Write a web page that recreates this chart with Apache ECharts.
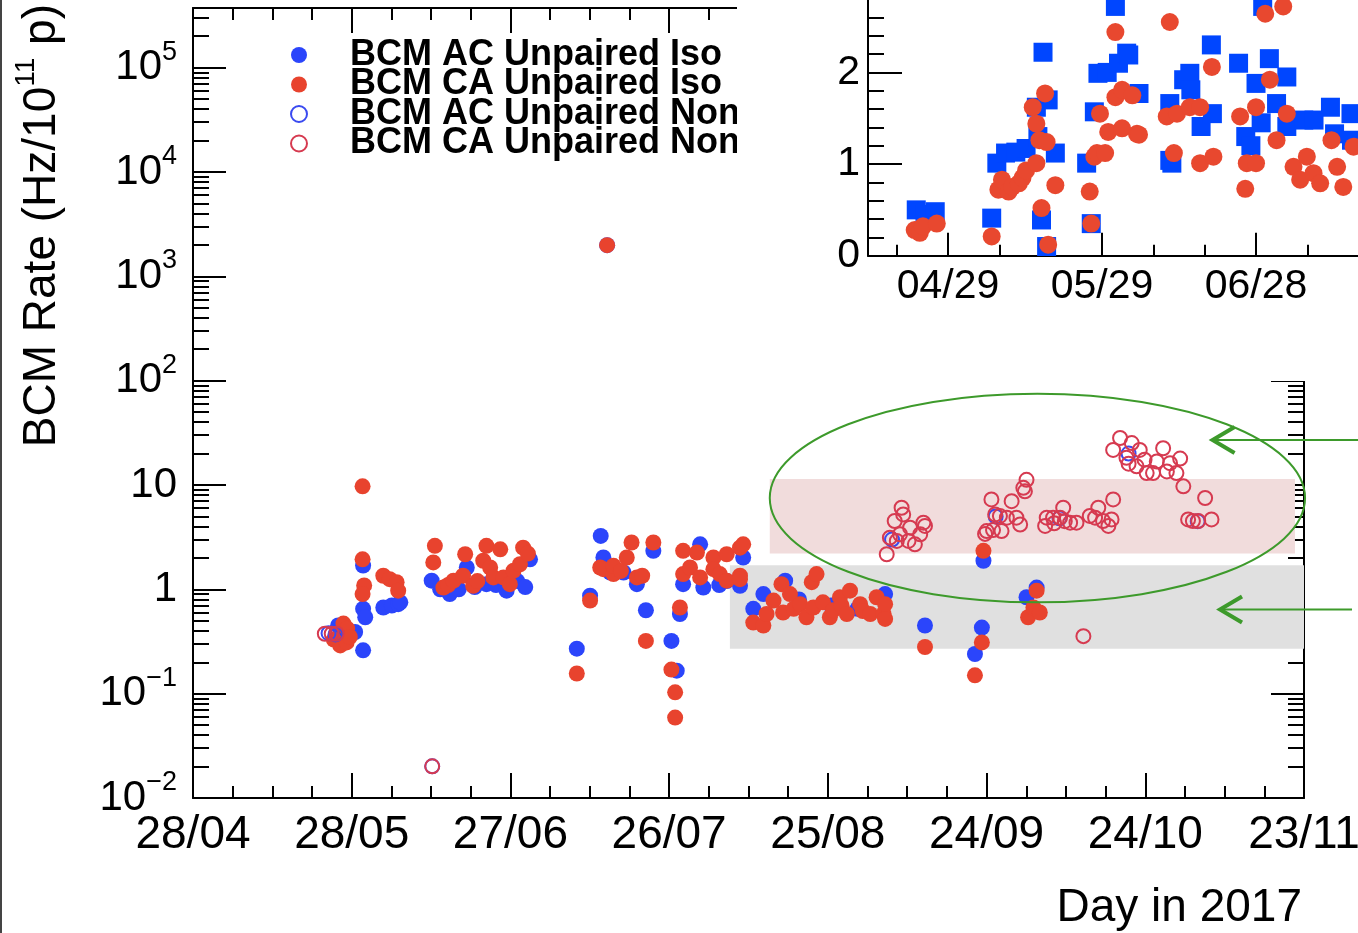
<!DOCTYPE html>
<html>
<head>
<meta charset="utf-8">
<script src="https://cdn.jsdelivr.net/npm/echarts@6.0.0/dist/echarts.min.js"></script>
<style>
  html, body { margin: 0; padding: 0; background: #fff; }
  #chart { width: 1358px; height: 933px; }
</style>
</head>
<body>
<div id="chart"></div>
<script>
// main plot: x in days after 28/04/2017, y = BCM rate (log)
const xLabels = ['28/04', '28/05', '27/06', '26/07', '25/08', '24/09', '24/10', '23/11'];
const xSpan = 209;
const yLabelValues = [0.01, 0.1, 1, 10, 100, 1000, 10000, 100000];
const yMax = 373000;

// inset: x in days after 04/29, linear y
const insetLabels = ['04/29', '05/29', '06/28', '07/28'];
const insetLabelDays = [0, 30, 60, 90];
const insetMinorDays = [-10, 10, 20, 40, 50, 70, 80, 100];
const insetYLabels = [0, 1, 2];
const insetYMinor = [0.2, 0.4, 0.6, 0.8, 1.2, 1.4, 1.6, 1.8, 2.2, 2.4, 2.6];

const acIso = [
  [27.3,0.45],[28.5,0.40],[30.5,0.39],[32.0,0.26],[32.0,0.65],[32.4,0.54],[32.0,1.69],
  [35.8,0.67],[37.4,0.70],[38.6,0.72],[39.0,0.75],
  [44.9,1.21],[46.5,1.00],[48.3,0.90],[50.0,1.00],[51.5,1.62],[53.0,1.05],[55.2,1.12],[57.0,1.10],[59.0,0.97],[61.0,1.20],[62.5,1.05],[63.4,1.94],
  [72.2,0.27],[74.7,0.87],[76.7,3.25],[77.2,2.02],[77.9,1990],[78.5,1.45],[81.0,1.45],[83.5,1.12],[86.6,2.34],[85.2,0.63],[91.6,0.58],[90.0,0.32],[91.0,0.166],
  [92.2,1.12],[95.4,2.70],[96.0,1.04],[99.0,1.10],[100.4,1.20],[102.9,1.08],[103.5,2.02],
  [105.4,0.65],[107.3,0.90],[111.4,1.21],[114.0,0.80],[120.0,0.70],[125.0,0.65],[130.2,0.90],
  [137.7,0.45],[147.1,0.24],[148.4,0.43],[148.7,1.88],
  [156.8,0.84],[158.7,1.04]
];
const caIso = [
  [26.5,0.33],[27.7,0.29],[28.3,0.47],[28.9,0.31],[29.0,0.42],[29.5,0.35],
  [31.9,9.7],[31.9,1.94],[32.2,1.09],[31.9,0.90],
  [35.8,1.35],[37.0,1.25],[38.3,1.17],[38.6,0.97],
  [45.2,1.81],[45.5,2.61],[47.1,1.04],[48.0,1.10],[49.0,1.21],[50.8,1.35],[51.2,2.17],[52.7,1.08],[53.5,1.20],[54.6,1.88],[55.2,2.61],[55.9,1.62],[56.5,1.30],[57.8,2.42],[58.4,1.30],[59.6,1.12],[60.3,1.51],[61.5,1.74],[62.1,2.51],[63.0,2.20],
  [72.2,0.156],[74.7,0.78],
  [76.6,1.62],[77.2,1.56],[77.9,1990],[79.1,1.40],[79.1,1.68],[80.5,1.50],[81.6,2.02],[82.5,2.81],[83.5,1.30],[84.5,1.35],[86.6,2.81],
  [85.2,0.32],[91.6,0.67],[90.0,0.17],[90.7,0.103],[90.7,0.059],
  [92.2,2.34],[92.2,1.40],[93.5,1.62],[94.8,2.25],[95.4,1.30],[97.9,2.02],[97.9,1.56],[99.1,1.40],[100.4,1.21],[100.4,2.17],[102.9,2.51],[103.5,2.70],[102.9,1.35],[102.9,1.25],
  [105.4,0.48],[107.3,0.45],[107.9,0.58],[109.2,0.78],[110.7,1.12],[111.0,0.60],[112.3,0.90],[113.0,0.65],[114.2,0.72],[115.4,0.54],[116.4,1.17],[116.7,0.67],[117.3,1.40],[118.5,0.75],[119.8,0.54],[120.4,0.63],[121.7,0.84],[122.0,0.70],[123.0,0.58],[123.6,0.97],[125.5,0.72],[126.0,0.62],[127.4,0.58],[128.6,0.84],[129.9,0.58],[130.2,0.72],[130.2,0.52],
  [137.7,0.28],[147.1,0.15],[148.4,0.31],[148.7,2.34],
  [157.1,0.54],[158.1,0.67],[158.7,0.97],[159.3,0.60]
];
const acNon = [
  [25.5,0.38],[26.8,0.37],[45.0,0.0201],[131.5,3.0],[151.0,5.0],[163.0,4.8],[176.0,20.0],[189.0,4.5]
];
const caNon = [
  [24.8,0.375],[26.1,0.375],[27.0,0.375],[45.0,0.0201],
  [130.5,2.17],[131.1,3.13],[132.0,4.52],[132.4,2.91],[133.0,3.37],[133.3,6.05],[133.6,5.22],[134.6,2.91],[134.9,3.90],[135.8,2.70],[136.8,3.37],[137.4,4.35],[137.7,4.05],
  [149.0,3.40],[149.3,3.62],[150.2,7.27],[150.5,3.70],[150.9,5.22],[151.8,5.05],[152.1,3.62],[153.1,4.86],[154.0,7.00],[154.9,4.86],[155.6,4.18],[156.2,9.4],[156.5,8.7],[156.8,11.2],
  [160.3,4.05],[160.6,4.86],[161.8,4.86],[162.0,4.30],[163.1,4.86],[163.7,6.05],[164.0,4.50],[165.0,4.35],[166.2,4.35],[168.7,5.05],[169.7,4.86],[170.3,6.05],[171.2,4.52],[172.2,4.05],[172.8,4.68],[173.1,7.27],
  [173.1,21.7],[174.4,28.2],[175.6,18.2],[176.0,16.0],[176.6,25.2],[177.5,15.1],[178.1,21.7],[179.0,17.5],[179.4,13.0],[180.6,13.0],[181.3,16.8],[182.5,22.5],[183.2,13.5],[183.8,16.2],[185.0,13.0],[185.7,17.9],[186.3,9.7],
  [187.2,4.68],[188.1,4.52],[189.1,4.52],[190.4,7.5],[191.6,4.68],
  [167.5,0.356]
];

const insetAc = [
  [-6.2,0.50],[-4.5,0.45],[-2.5,0.48],
  [8.5,0.41],[9.5,1.01],[11.2,1.12],[13.2,1.13],[15.2,1.17],[17.2,1.62],[17.5,1.30],[18.2,0.39],[18.5,2.22],[19.2,0.10],[19.5,1.70],[20.9,1.12],
  [27.0,1.01],[27.9,0.35],[28.5,1.57],[29.2,1.99],[31.0,2.00],[32.6,2.72],[33.2,2.10],[34.8,2.21],[35.2,2.19],[37.2,1.77],
  [43.2,1.66],[43.2,1.04],[43.6,1.01],[45.9,1.92],[47.1,1.99],[47.3,1.81],[49.3,1.41],[51.3,2.30],[51.5,1.55],
  [55.6,2.80],[56.6,2.10],[58.0,1.30],[59.0,1.20],[60.0,1.88],[61.0,1.45],[61.3,2.72],[62.6,2.15],[64.0,1.66],[66.0,1.95],[66.0,1.41],
  [69.3,1.48],[71.3,1.48],[74.5,1.62],[75.3,1.33],[78.5,1.55],[78.6,1.26]
];
const insetCa = [
  [-6.5,0.28],[-5.5,0.25],[-4.9,0.32],[-2.2,0.35],
  [8.5,0.21],[9.8,0.72],[10.5,0.83],[11.8,0.70],[12.5,0.75],[13.8,0.79],[14.5,0.85],[15.2,0.93],[16.5,1.62],[17.2,1.44],[17.2,1.01],[17.8,1.26],[18.2,0.52],[18.9,1.77],[19.2,1.24],[19.5,0.12],[20.9,0.77],
  [27.6,0.70],[27.9,0.35],[28.5,1.08],[29.0,1.12],[29.6,1.55],[30.6,1.12],[31.2,1.35],[32.6,2.44],[32.6,1.73],[33.9,1.81],[33.9,1.39],[35.9,1.75],[36.8,1.33],[37.2,1.32],
  [42.6,1.52],[43.2,2.55],[44.0,1.12],[44.6,1.55],[47.1,1.62],[49.1,1.62],[49.1,1.01],[51.4,2.06],[51.7,1.08],
  [56.9,1.52],[57.9,0.73],[58.2,1.01],[60.0,1.62],[60.0,1.01],[61.8,2.64],[62.7,1.92],[64.0,1.26],[65.3,2.72],[66.0,1.55],[67.3,0.97],[68.6,0.83],[69.9,1.08],[71.2,0.90],[72.5,0.79],[74.7,1.26],[75.8,0.97],[77.0,0.75],[79.0,1.19]
];

// annotations, in data coordinates of the main plot
const grayBand = { days: [101, 209], values: [0.27, 1.7] };
const pinkBand = { days: [108.5, 207.3], values: [2.2, 11.4] };
const ellipseBox = { days: [108.5, 209.2], values: [0.75, 75] };
const arrowTips = [[191.8, 27], [193.2, 0.64]];

const FONT = "'Liberation Sans', Arial, Helvetica, sans-serif";
const BLUE = '#2b45fb';
const RED = '#e8432e';
const HOLLOW_RED = '#d63a50';
const HOLLOW_BLUE = '#3a4af0';
const GREEN = '#3d9a2b';

const xStep = xSpan / (xLabels.length - 1);
const xTickDays = xLabels.map((_, i) => i * xStep);
const xMinorDays = [];
for (let j = 0; j <= (xLabels.length - 1) * 4; j++) {
    if (j % 4) xMinorDays.push(j * xStep / 4);
}
const yMinor = [];
for (let e = -2; e <= 5; e++) {
    for (let m = 2; m <= 9; m++) {
        const v = m * Math.pow(10, e);
        if (v < yMax) yMinor.push(v);
    }
}

const black = { color: '#000', width: 2 };

function tickAxis(base, custom, len, withLine) {
    return Object.assign({
        axisLine: { show: !!withLine, onZero: false, lineStyle: black },
        axisTick: { show: true, inside: true, length: len, customValues: custom, lineStyle: black },
        axisLabel: { show: false },
        splitLine: { show: false }
    }, base);
}

const chart = echarts.init(document.getElementById('chart'));

const yLabelRich = {
    b: { fontSize: 42, lineHeight: 58, fontFamily: FONT, color: '#000' },
    s: { fontSize: 27, lineHeight: 27, verticalAlign: 'top', fontFamily: FONT, color: '#000' }
};

const mainX = tickAxis({ type: 'value', gridIndex: 0, position: 'bottom', min: 0, max: xSpan }, xTickDays, 25, true);
mainX.axisLabel = {
    show: true, customValues: xTickDays, margin: 14,
    fontSize: 46, fontFamily: FONT, color: '#000',
    formatter: v => xLabels[Math.round(v / xStep)]
};

const mainY = tickAxis({ type: 'log', logBase: 10, gridIndex: 0, position: 'left', min: 0.01, max: yMax }, yLabelValues, 33, true);
mainY.axisLabel = {
    show: true, customValues: yLabelValues, margin: 16,
    formatter: function (v) {
        const e = Math.round(Math.log10(v));
        if (e === 0) return '{b|1}';
        if (e === 1) return '{b|10}';
        return '{b|10}{s|' + (e < 0 ? '\u2212' + (-e) : e) + '}';
    },
    rich: yLabelRich
};

const insetX = tickAxis({ type: 'value', gridIndex: 1, position: 'bottom', min: -15.6, max: 101.3, z: 60 }, insetLabelDays, 23, true);
insetX.axisLabel = {
    show: true, customValues: insetLabelDays, margin: 10,
    fontSize: 41, fontFamily: FONT, color: '#000',
    formatter: v => insetLabels[insetLabelDays.indexOf(Math.round(v))]
};
const insetY = tickAxis({ type: 'value', gridIndex: 1, position: 'left', min: 0, max: 2.79, z: 60 }, insetYLabels, 34, true);
insetY.axisLabel = {
    show: true, customValues: insetYLabels, margin: 8,
    fontSize: 41, fontFamily: FONT, color: '#000'
};

const option = {
    animation: false,
    backgroundColor: '#fff',
    grid: [
        { left: 193, top: 8, right: 54, bottom: 135, outerBoundsMode: 'none', containLabel: false },
        { left: 868, top: 0, width: 600, height: 255.7, outerBoundsMode: 'none', containLabel: false }
    ],
    xAxis: [
        mainX,
        tickAxis({ type: 'value', gridIndex: 0, position: 'bottom', min: 0, max: xSpan }, xMinorDays, 12, false),
        tickAxis({ type: 'value', gridIndex: 0, position: 'top', min: 0, max: xSpan }, xTickDays, 25, true),
        tickAxis({ type: 'value', gridIndex: 0, position: 'top', min: 0, max: xSpan }, xMinorDays, 12, false),
        insetX,
        tickAxis({ type: 'value', gridIndex: 1, position: 'bottom', min: -15.6, max: 101.3, z: 60 }, insetMinorDays, 11, false)
    ],
    yAxis: [
        mainY,
        tickAxis({ type: 'log', logBase: 10, gridIndex: 0, position: 'left', min: 0.01, max: yMax }, yMinor, 16, false),
        tickAxis({ type: 'log', logBase: 10, gridIndex: 0, position: 'right', min: 0.01, max: yMax }, yLabelValues, 33, true),
        tickAxis({ type: 'log', logBase: 10, gridIndex: 0, position: 'right', min: 0.01, max: yMax }, yMinor, 16, false),
        insetY,
        tickAxis({ type: 'value', gridIndex: 1, position: 'left', min: 0, max: 2.79, z: 60 }, insetYMinor, 16, false)
    ],
    legend: {
        left: 290, top: 37, padding: 0,
        orient: 'vertical', itemGap: -6.5, itemWidth: 16, itemHeight: 16,
        selectedMode: false,
        formatter: '{t|{name}}',
        textStyle: {
            fontSize: 36, fontWeight: 'bold', fontFamily: FONT, color: '#000',
            rich: { t: { fontSize: 36, fontWeight: 'bold', fontFamily: FONT, color: '#000', lineHeight: 29.5, padding: [0, 0, 0, 38] } }
        },
        data: [
            { name: 'BCM AC Unpaired Iso', icon: 'circle', itemStyle: { color: BLUE } },
            { name: 'BCM CA Unpaired Iso', icon: 'circle', itemStyle: { color: RED } },
            { name: 'BCM AC Unpaired NonColliding', icon: 'circle', itemStyle: { color: '#fff', borderColor: HOLLOW_BLUE, borderWidth: 2 } },
            { name: 'BCM CA Unpaired NonColliding', icon: 'circle', itemStyle: { color: '#fff', borderColor: HOLLOW_RED, borderWidth: 2 } }
        ]
    },
    series: [
        {
            name: 'BCM AC Unpaired Iso', type: 'scatter', xAxisIndex: 0, yAxisIndex: 0,
            data: acIso, symbol: 'circle', symbolSize: 16, itemStyle: { color: BLUE, opacity: 1 },
            markArea: {
                silent: true,
                data: [
                    [{ xAxis: grayBand.days[0], yAxis: grayBand.values[1], itemStyle: { color: '#e0e0e0' } },
                     { xAxis: grayBand.days[1], yAxis: grayBand.values[0] }],
                    [{ xAxis: pinkBand.days[0], yAxis: pinkBand.values[1], itemStyle: { color: '#f1dcdc' } },
                     { xAxis: pinkBand.days[1], yAxis: pinkBand.values[0] }]
                ]
            }
        },
        {
            name: 'BCM CA Unpaired Iso', type: 'scatter', xAxisIndex: 0, yAxisIndex: 0,
            data: caIso, symbol: 'circle', symbolSize: 16, itemStyle: { color: RED, opacity: 1 }
        },
        {
            name: 'BCM AC Unpaired NonColliding', type: 'scatter', xAxisIndex: 0, yAxisIndex: 0,
            data: acNon, symbol: 'circle', symbolSize: 14,
            itemStyle: { color: 'transparent', borderColor: HOLLOW_BLUE, borderWidth: 2, opacity: 1 }
        },
        {
            name: 'BCM CA Unpaired NonColliding', type: 'scatter', xAxisIndex: 0, yAxisIndex: 0,
            data: caNon, symbol: 'circle', symbolSize: 14,
            itemStyle: { color: 'transparent', borderColor: HOLLOW_RED, borderWidth: 2, opacity: 1 }
        },
        {
            name: 'inset AC', type: 'scatter', xAxisIndex: 4, yAxisIndex: 4, z: 61,
            data: insetAc, symbol: 'rect', symbolSize: 19, itemStyle: { color: '#0046ff', opacity: 1 }
        },
        {
            name: 'inset CA', type: 'scatter', xAxisIndex: 4, yAxisIndex: 4, z: 62,
            data: insetCa, symbol: 'circle', symbolSize: 18, itemStyle: { color: '#e8482f', opacity: 1 }
        }
    ]
};
chart.setOption(option);

// annotation shapes placed through the main plot's scales
const px = (d, v) => chart.convertToPixel({ seriesIndex: 0 }, [d, v]);
const eA = px(ellipseBox.days[0], ellipseBox.values[1]);
const eB = px(ellipseBox.days[1], ellipseBox.values[0]);
const graphics = [
    { type: 'rect', z: 1, shape: { x: 0, y: 0, width: 2, height: 933 }, style: { fill: '#444' } },
    { type: 'rect', z: 50, shape: { x: 737, y: 0, width: 621, height: 381 }, style: { fill: '#fff' } },
    {
        type: 'ellipse', z: 40,
        shape: { cx: (eA[0] + eB[0]) / 2, cy: (eA[1] + eB[1]) / 2, rx: (eB[0] - eA[0]) / 2, ry: (eB[1] - eA[1]) / 2 },
        style: { fill: 'none', stroke: GREEN, lineWidth: 2 }
    },
    {
        type: 'text', z: 45, x: 42, y: 4, rotation: Math.PI / 2,
        style: {
            text: '{a|BCM Rate (Hz/10}{b|11}{a| p)}',
            align: 'right', verticalAlign: 'middle',
            rich: {
                a: { fontSize: 46, lineHeight: 60, fontFamily: FONT, fill: '#000' },
                b: { fontSize: 28, lineHeight: 28, verticalAlign: 'top', fontFamily: FONT, fill: '#000' }
            }
        }
    },
    {
        type: 'text', z: 45, x: 1302, y: 908,
        style: { text: 'Day in 2017', fontSize: 46, fontFamily: FONT, fill: '#000', align: 'right', verticalAlign: 'middle' }
    }
];
const shaftLen = [150, 132];
arrowTips.forEach((t, i) => {
    const p = px(t[0], t[1]);
    graphics.push({
        type: 'polyline', z: 40, shape: { points: [[p[0] + shaftLen[i], p[1]], [p[0] + 2, p[1]]] },
        style: { stroke: GREEN, lineWidth: 2, fill: 'none' }
    });
    graphics.push({
        type: 'polyline', z: 40, shape: { points: [[p[0] + 22, p[1] - 13], [p[0], p[1]], [p[0] + 22, p[1] + 13]] },
        style: { stroke: GREEN, lineWidth: 4, fill: 'none' }
    });
});
chart.setOption({ graphic: graphics });
</script>
</body>
</html>
